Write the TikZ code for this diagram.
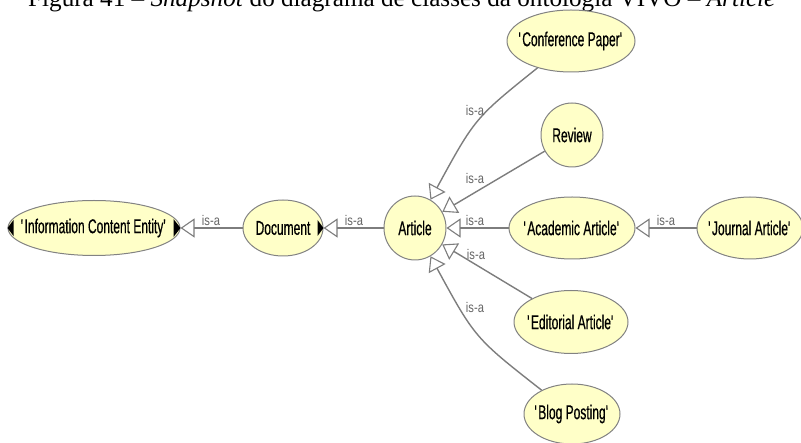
\documentclass[tikz,border=0pt]{standalone}
\usepackage{fontspec}
\usepackage{graphicx}
\usetikzlibrary{arrows.meta,shapes.geometric}
\setmainfont{Liberation Serif}
\newfontfamily\nodefont[FakeStretch=0.6,FakeBold=0.5]{Liberation Sans}
\newfontfamily\labfont[FakeStretch=0.8]{Liberation Sans}
\newcommand\sq{\textquotesingle}
\newcommand\nt[1]{\makebox[0pt]{#1}}
\definecolor{nodefill}{RGB}{255,255,200}
\definecolor{nodeline}{RGB}{130,130,130}
\definecolor{edgecol}{RGB}{125,125,125}
\definecolor{labcol}{RGB}{100,100,100}
\tikzset{
  cls/.style={ellipse, draw=nodeline, line width=1pt, fill=nodefill, inner sep=0pt,
    font=\nodefont\fontsize{20}{20}\selectfont, text=black},
  isa/.style={draw=edgecol, line width=1.4pt,
    -{Triangle[length=14pt, width=19pt, fill=white, line width=1.1pt]}},
  lab/.style={font=\labfont\fontsize{14}{14}\selectfont, text=labcol, inner sep=0pt},
  ind/.style={fill=black}
}
\begin{document}
\begin{tikzpicture}[x=1pt,y=-1pt]
\useasboundingbox (0,0) rectangle (801,443);
\node[anchor=base west, inner sep=0pt] (title) at (28,7)
  {\resizebox{747pt}{!}{Figura 41 -- \textit{Snapshot} do diagrama de classes da ontologia VIVO -- \textit{Article}}};

\node[cls, minimum width=172pt, minimum height=55pt] (ice) at (94,228) {\nt{\sq Information Content Entity\sq}};
\node[cls, minimum width=80pt, minimum height=56pt] (doc) at (283,228) {\nt{Document}};
\node[cls, minimum width=62pt, minimum height=64pt] (art) at (415,228) {\nt{Article}};
\node[cls, minimum width=128pt, minimum height=62pt] (cp) at (571,41) {\nt{\sq Conference Paper\sq}};
\node[cls, minimum width=62pt, minimum height=64pt] (rev) at (572,135) {\nt{Review}};
\node[cls, minimum width=126pt, minimum height=62pt] (aca) at (572,228) {\nt{\sq Academic Article\sq}};
\node[cls, minimum width=106pt, minimum height=62pt] (jou) at (750,228) {\nt{\sq Journal Article\sq}};
\node[cls, minimum width=114pt, minimum height=63pt] (edi) at (571,322) {\nt{\sq Editorial Article\sq}};
\node[cls, minimum width=96pt, minimum height=60pt] (blog) at (572,414) {\nt{\sq Blog Posting\sq}};

% expand indicators
\fill[ind] (ice.west) ++(6,-8) -- (ice.west) -- ++(6,8) -- cycle;
\fill[ind] (ice.east) ++(-7,-9) -- (ice.east) -- ++(-7,9) -- cycle;
\fill[ind] (doc.east) ++(-6,-8) -- (doc.east) -- ++(-6,8) -- cycle;

% edges
\draw[isa] (doc) -- (ice);
\draw[isa] (art) -- (doc);
\draw[isa] (cp) .. controls (475,118) .. (art);
\draw[isa] (rev) -- (art);
\draw[isa] (aca) -- (art);
\draw[isa] (jou) -- (aca);
\draw[isa] (edi) -- (art);
\draw[isa] (blog) .. controls (475,338) .. (art);

% labels
\node[lab] (l1) at (211,220) {is-a};
\node[lab] (l2) at (354,220) {is-a};
\node[lab] (l3) at (475,110) {is-a};
\node[lab] (l4) at (475,178) {is-a};
\node[lab] (l5) at (475,220) {is-a};
\node[lab] (l6) at (666,220) {is-a};
\node[lab] (l7) at (476,254) {is-a};
\node[lab] (l8) at (475,307) {is-a};
\end{tikzpicture}
\end{document}
